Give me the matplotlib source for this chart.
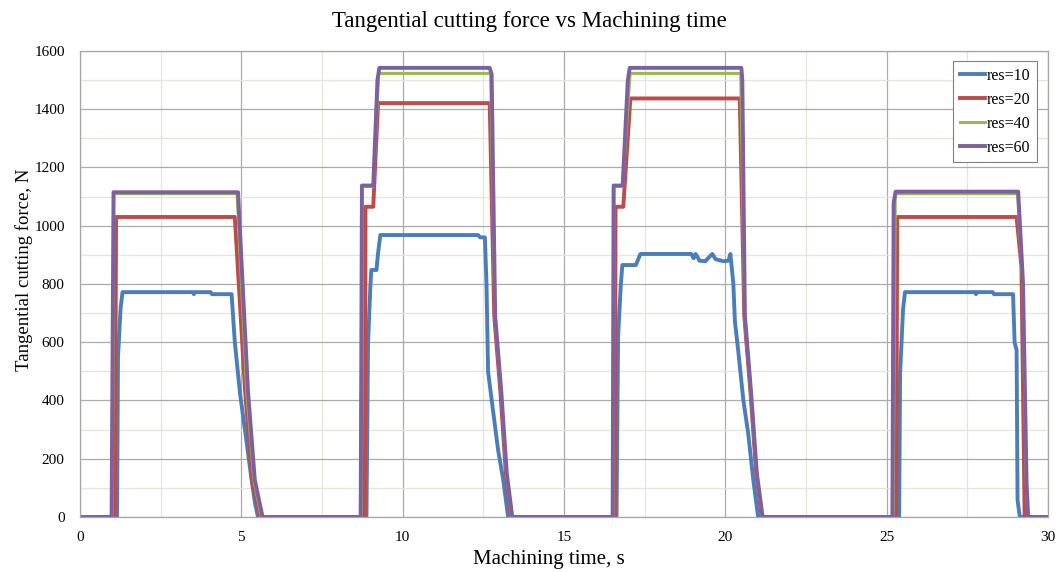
import matplotlib
matplotlib.use("Agg")
import matplotlib.pyplot as plt
from matplotlib.ticker import MultipleLocator

# machining time (s) and tangential force (N)
t10 = [0, 1.15, 1.18, 1.26, 1.32, 3.50, 3.53, 3.57, 4.05, 4.09, 4.70, 4.80, 4.96, 5.17, 5.32, 5.43, 5.52,
       8.88, 8.93, 9.00, 9.03, 9.19, 9.24, 9.31, 12.34, 12.40, 12.55, 12.60, 12.65, 12.76, 12.96, 13.12, 13.27,
       16.63, 16.68, 16.76, 16.81, 17.23, 17.37, 18.95, 19.02, 19.08, 19.13, 19.20, 19.38, 19.50, 19.60,
       19.70, 19.95, 20.10, 20.16, 20.25, 20.30, 20.40, 20.56, 20.71, 20.87, 21.02,
       25.39, 25.42, 25.51, 25.57, 27.74, 27.77, 27.80, 28.29, 28.33, 28.92, 28.97, 29.03, 29.06, 29.13, 30]
f10 = [0, 0, 550, 718, 772, 772, 765, 772, 772, 765, 765, 600, 425, 253, 127, 45, 0,
       0, 598, 791, 848, 848, 906, 968, 968, 960, 960, 803, 499, 402, 230, 127, 0,
       0, 619, 791, 865, 865, 903, 903, 888, 903, 895, 880, 878, 892, 903,
       885, 878, 880, 903, 803, 671, 573, 402, 288, 127, 0,
       0, 494, 711, 772, 772, 765, 772, 772, 765, 765, 598, 573, 58, 0, 0]

t20 = [0, 1.08, 1.12, 4.80, 5.12, 5.34, 5.58,
       8.83, 8.85, 9.09, 9.24, 12.70, 12.84, 13.03, 13.20, 13.36,
       16.58, 16.60, 16.84, 17.06, 20.45, 20.59, 20.78, 20.96, 21.13,
       25.30, 25.33, 29.03, 29.18, 29.28, 30]
f20 = [0, 0, 1030, 1030, 430, 127, 0,
       0, 1065, 1065, 1421, 1421, 690, 430, 150, 0,
       0, 1065, 1065, 1437, 1437, 690, 430, 150, 0,
       0, 1030, 1030, 860, 0, 0]

t40 = [0, 1.00, 1.05, 4.87, 5.17, 5.39, 5.62,
       8.72, 8.74, 9.09, 9.26, 12.73, 12.86, 13.05, 13.22, 13.38,
       16.53, 16.55, 16.82, 17.05, 20.48, 20.60, 20.79, 20.97, 21.15,
       25.20, 25.27, 29.06, 29.22, 29.33, 29.38, 30]
f40 = [0, 0, 1110, 1110, 430, 127, 0,
       0, 1135, 1135, 1523, 1523, 690, 430, 150, 0,
       0, 1135, 1135, 1523, 1523, 690, 430, 150, 0,
       0, 1110, 1110, 800, 117, 0, 0]

t60 = [0, 0.98, 1.04, 4.90, 5.21, 5.42, 5.66,
       8.70, 8.74, 9.09, 9.22, 9.28, 12.70, 12.76, 12.87, 13.06, 13.23, 13.40,
       16.51, 16.54, 16.82, 16.98, 17.04, 20.50, 20.53, 20.61, 20.80, 20.98, 21.16,
       25.18, 25.22, 25.28, 29.08, 29.23, 29.34, 29.39, 30]
f60 = [0, 0, 1115, 1115, 430, 127, 0,
       0, 1138, 1138, 1500, 1542, 1542, 1520, 690, 430, 150, 0,
       0, 1138, 1138, 1500, 1542, 1542, 1500, 690, 430, 150, 0,
       0, 1080, 1117, 1117, 803, 117, 0, 0]

labels = ['res=10', 'res=20', 'res=40', 'res=60']
colors = ['#4A7EBB', '#BE4B48', '#98B954', '#7D60A0']

plt.rcParams['font.family'] = ['Liberation Serif', 'DejaVu Serif']

fig = plt.figure(figsize=(10.59, 5.72), dpi=100)
ax = fig.add_axes([0.0755, 0.0962, 0.914, 0.8147])

series = [(t10, f10), (t20, f20), (t40, f40), (t60, f60)]
widths = [2.8, 2.8, 2.2, 2.8]
for (t, f), lab, c, lw in zip(series, labels, colors, widths):
    ax.plot(t, f, color=c, lw=lw, label=lab, solid_joinstyle='round')

ax.set_xlim(0, 30)
ax.set_ylim(0, 1600)
ax.xaxis.set_major_locator(MultipleLocator(5))
ax.xaxis.set_minor_locator(MultipleLocator(2.5))
ax.yaxis.set_major_locator(MultipleLocator(200))
ax.yaxis.set_minor_locator(MultipleLocator(100))
ax.grid(which='major', color='#ABABAB', lw=0.9)
ax.grid(which='minor', color='#E6E6D6', lw=0.9)
ax.set_axisbelow(True)
ax.tick_params(which='both', length=0, labelsize=11)
ax.tick_params(axis='y', pad=11)
ax.tick_params(axis='x', pad=10)
for s in ax.spines.values():
    s.set_color('#A6A6A6')
    s.set_linewidth(0.9)

ax.set_xlabel('Machining time, s', fontsize=15)
ax.xaxis.set_label_coords(0.484, -0.071)
ax.set_ylabel('Tangential cutting force, N', fontsize=13.5)
ax.yaxis.set_label_coords(-0.049, 0.53)
fig.suptitle('Tangential cutting force vs Machining time', fontsize=16.5, y=0.962, va='center')

leg = ax.legend(loc='upper right', bbox_to_anchor=(0.9886, 0.978), fontsize=11.5,
                handlelength=1.6, handletextpad=0.1, labelspacing=0.5,
                fancybox=False, framealpha=1, borderpad=0.4, borderaxespad=0)
leg.get_frame().set_edgecolor('#808080')
leg.get_frame().set_linewidth(0.8)

fig.savefig('out.png', dpi=100)
